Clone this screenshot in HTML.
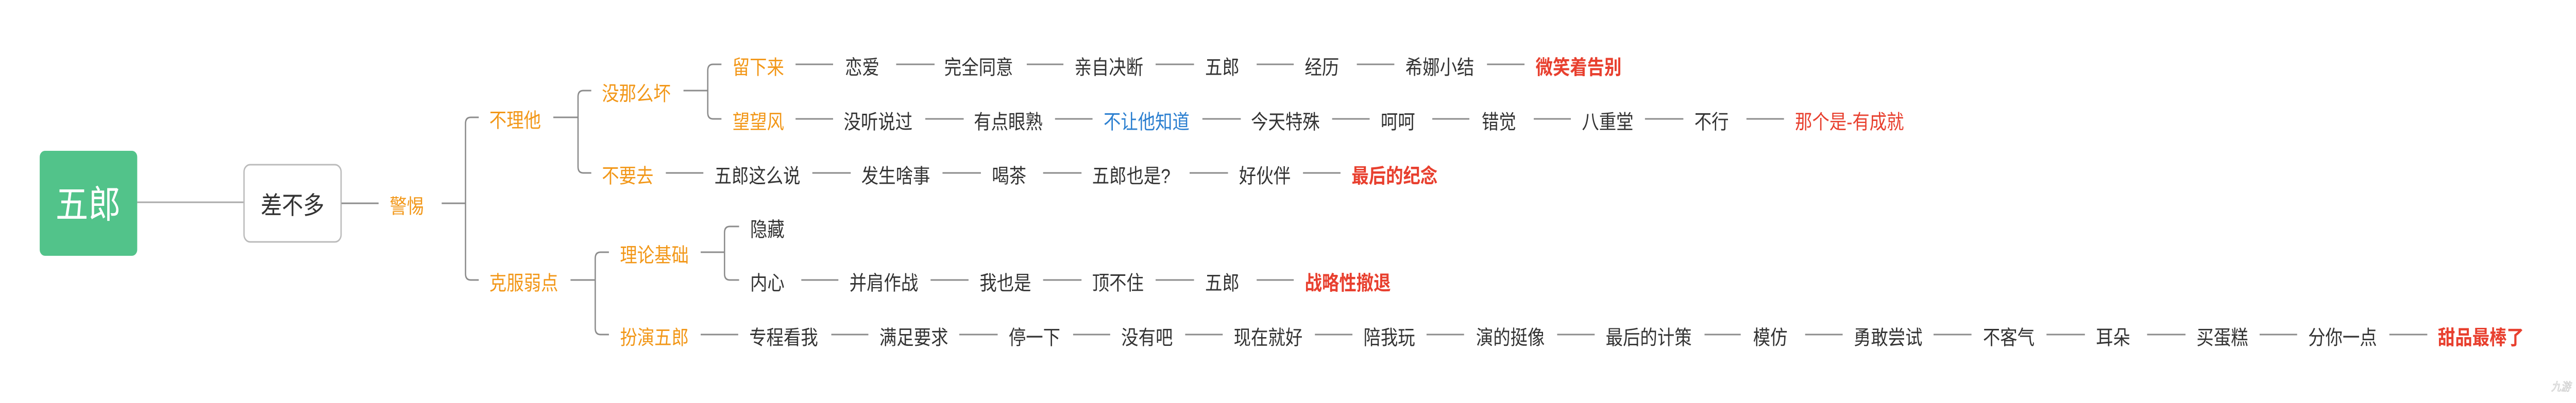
<!DOCTYPE html>
<html><head><meta charset="utf-8"><style>
html,body{margin:0;padding:0;background:#fff;width:100vw;height:100vh;overflow:hidden}
svg{display:block;width:100vw;height:100vh}
svg text{font-family:"Liberation Sans","Noto Sans CJK SC",sans-serif;dominant-baseline:central}
.t{font-size:39px;fill:#333}
.o{font-size:39px;fill:#f29718}
.r{font-size:39px;fill:#e8402f;font-weight:bold}
.rn{font-size:39px;fill:#e8402f}
.b{font-size:39px;fill:#2b7fd0}
.l{stroke:#8c8c8c;stroke-width:3;fill:none}
</style></head><body>
<svg viewBox="0 0 5838 783" preserveAspectRatio="none" xmlns="http://www.w3.org/2000/svg">
<line x1="311" y1="393" x2="552" y2="393" stroke="#aaa" stroke-width="3"/>
<rect x="90" y="293" width="221" height="204" rx="12" fill="#52c38a"/>
<text x="200" y="398" text-anchor="middle" style="font-size:74px;fill:#fff">五郎</text>
<rect x="553" y="320" width="220" height="150" rx="14" fill="#fff" stroke="#bbb" stroke-width="3"/>
<text x="663" y="400" text-anchor="middle" style="font-size:48px;fill:#333">差不多</text>
<line class="l" x1="774" y1="395" x2="858" y2="395"/>
<text class="o" x="883" y="401">警惕</text>
<line class="l" x1="1001" y1="395" x2="1055" y2="395"/>
<path class="l" d="M1085 228 H1067 Q1055 228 1055 240 V532 Q1055 544 1067 544 H1085"/>
<text class="o" x="1109" y="234">不理他</text>
<text class="o" x="1109" y="550">克服弱点</text>
<line class="l" x1="1254" y1="228" x2="1310" y2="228"/>
<path class="l" d="M1340 176 H1322 Q1310 176 1310 188 V324 Q1310 336 1322 336 H1340"/>
<text class="o" x="1364" y="182">没那么坏</text>
<text class="o" x="1364" y="342">不要去</text>
<line class="l" x1="1549" y1="176" x2="1604" y2="176"/>
<path class="l" d="M1635 125 H1616 Q1604 125 1604 137 V219 Q1604 231 1616 231 H1635"/>
<text class="o" x="1660" y="131">留下来</text>
<text class="o" x="1660" y="237">望望风</text>
<line class="l" x1="1293" y1="544" x2="1349" y2="544"/>
<path class="l" d="M1380 490 H1361 Q1349 490 1349 502 V638 Q1349 650 1361 650 H1380"/>
<text class="o" x="1405" y="496">理论基础</text>
<text class="o" x="1405" y="656">扮演五郎</text>
<line class="l" x1="1588" y1="490" x2="1642" y2="490"/>
<path class="l" d="M1675 440 H1654 Q1642 440 1642 452 V532 Q1642 544 1654 544 H1675"/>
<text class="t" x="1700" y="446">隐藏</text>
<text class="t" x="1700" y="550">内心</text>
<g>
<line class="l" x1="1803" y1="125" x2="1888" y2="125"/><text class="t" x="1915" y="131">恋爱</text>
<line class="l" x1="2031" y1="125" x2="2118" y2="125"/><text class="t" x="2140" y="131">完全同意</text>
<line class="l" x1="2327" y1="125" x2="2410" y2="125"/><text class="t" x="2435" y="131">亲自决断</text>
<line class="l" x1="2619" y1="125" x2="2706" y2="125"/><text class="t" x="2731" y="131">五郎</text>
<line class="l" x1="2848" y1="125" x2="2932" y2="125"/><text class="t" x="2957" y="131">经历</text>
<line class="l" x1="3075" y1="125" x2="3160" y2="125"/><text class="t" x="3185" y="131">希娜小结</text>
<line class="l" x1="3370" y1="125" x2="3455" y2="125"/><text class="r" x="3480" y="131">微笑着告别</text>
</g>
<g>
<line class="l" x1="1803" y1="231" x2="1888" y2="231"/><text class="t" x="1912" y="237">没听说过</text>
<line class="l" x1="2097" y1="231" x2="2184" y2="231"/><text class="t" x="2207" y="237">有点眼熟</text>
<line class="l" x1="2391" y1="231" x2="2476" y2="231"/><text class="b" x="2501" y="237">不让他知道</text>
<line class="l" x1="2725" y1="231" x2="2812" y2="231"/><text class="t" x="2835" y="237">今天特殊</text>
<line class="l" x1="3019" y1="231" x2="3104" y2="231"/><text class="t" x="3129" y="237">呵呵</text>
<line class="l" x1="3246" y1="231" x2="3330" y2="231"/><text class="t" x="3358" y="237">错觉</text>
<line class="l" x1="3476" y1="231" x2="3560" y2="231"/><text class="t" x="3585" y="237">八重堂</text>
<line class="l" x1="3728" y1="231" x2="3815" y2="231"/><text class="t" x="3840" y="237">不行</text>
<line class="l" x1="3958" y1="231" x2="4043" y2="231"/><text class="rn" x="4068" y="237">那个是-有成就</text>
</g>
<g>
<line class="l" x1="1509" y1="336" x2="1594" y2="336"/><text class="t" x="1619" y="342">五郎这么说</text>
<line class="l" x1="1841" y1="336" x2="1928" y2="336"/><text class="t" x="1952" y="342">发生啥事</text>
<line class="l" x1="2136" y1="336" x2="2223" y2="336"/><text class="t" x="2248" y="342">喝茶</text>
<line class="l" x1="2364" y1="336" x2="2451" y2="336"/><text class="t" x="2475" y="342">五郎也是?</text>
<line class="l" x1="2696" y1="336" x2="2783" y2="336"/><text class="t" x="2808" y="342">好伙伴</text>
<line class="l" x1="2953" y1="336" x2="3038" y2="336"/><text class="r" x="3063" y="342">最后的纪念</text>
</g>
<g>
<line class="l" x1="1816" y1="544" x2="1900" y2="544"/><text class="t" x="1925" y="550">并肩作战</text>
<line class="l" x1="2109" y1="544" x2="2195" y2="544"/><text class="t" x="2220" y="550">我也是</text>
<line class="l" x1="2364" y1="544" x2="2451" y2="544"/><text class="t" x="2475" y="550">顶不住</text>
<line class="l" x1="2619" y1="544" x2="2706" y2="544"/><text class="t" x="2731" y="550">五郎</text>
<line class="l" x1="2848" y1="544" x2="2932" y2="544"/><text class="r" x="2957" y="550">战略性撤退</text>
</g>
<g>
<line class="l" x1="1588" y1="650" x2="1673" y2="650"/><text class="t" x="1698" y="656">专程看我</text>
<line class="l" x1="1884" y1="650" x2="1968" y2="650"/><text class="t" x="1993" y="656">满足要求</text>
<line class="l" x1="2174" y1="650" x2="2261" y2="650"/><text class="t" x="2286" y="656">停一下</text>
<line class="l" x1="2432" y1="650" x2="2516" y2="650"/><text class="t" x="2541" y="656">没有吧</text>
<line class="l" x1="2686" y1="650" x2="2771" y2="650"/><text class="t" x="2796" y="656">现在就好</text>
<line class="l" x1="2980" y1="650" x2="3065" y2="650"/><text class="t" x="3090" y="656">陪我玩</text>
<line class="l" x1="3233" y1="650" x2="3318" y2="650"/><text class="t" x="3345" y="656">演的挺像</text>
<line class="l" x1="3529" y1="650" x2="3614" y2="650"/><text class="t" x="3639" y="656">最后的计策</text>
<line class="l" x1="3863" y1="650" x2="3945" y2="650"/><text class="t" x="3973" y="656">模仿</text>
<line class="l" x1="4091" y1="650" x2="4176" y2="650"/><text class="t" x="4201" y="656">勇敢尝试</text>
<line class="l" x1="4382" y1="650" x2="4468" y2="650"/><text class="t" x="4494" y="656">不客气</text>
<line class="l" x1="4638" y1="650" x2="4725" y2="650"/><text class="t" x="4750" y="656">耳朵</text>
<line class="l" x1="4866" y1="650" x2="4953" y2="650"/><text class="t" x="4978" y="656">买蛋糕</text>
<line class="l" x1="5121" y1="650" x2="5206" y2="650"/><text class="t" x="5231" y="656">分你一点</text>
<line class="l" x1="5415" y1="650" x2="5501" y2="650"/><text class="r" x="5525" y="656">甜品最棒了</text>
</g>
<text x="5782" y="752" style="font-size:22px;fill:#fff;stroke:#ccc;stroke-width:1;font-style:italic">九游</text>
</svg>
</body></html>
